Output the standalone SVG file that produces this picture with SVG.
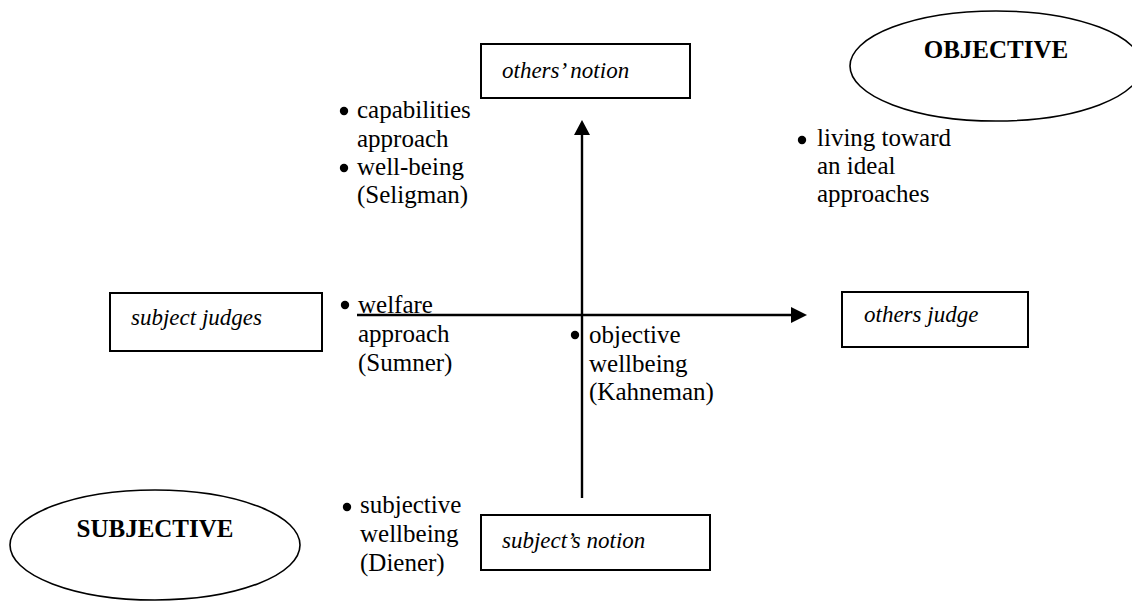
<svg xmlns="http://www.w3.org/2000/svg" width="1132" height="601" viewBox="0 0 1132 601">
<style>
.box{fill:#fff;stroke:#000;stroke-width:2}
.ell{fill:#fff;stroke:#000;stroke-width:1.6}
.lbl{font-family:"Liberation Serif","Times New Roman",serif;font-style:italic;font-size:23px;fill:#000}
.big{font-family:"Liberation Serif","Times New Roman",serif;font-weight:bold;font-size:25px;fill:#000;text-anchor:middle}
.txt{font-family:"Liberation Serif","Times New Roman",serif;font-size:25px;fill:#000}
.dot{fill:#000}
.ax{stroke:#000;stroke-width:2.4;fill:none}
.head{fill:#000}
</style>
<rect width="1132" height="601" fill="#fff"/>
<g id="objective">
<ellipse class="ell" cx="996" cy="66" rx="146" ry="55"/>
<text class="big" x="996" y="58">OBJECTIVE</text>
</g>
<g id="subjective">
<ellipse class="ell" cx="155" cy="545" rx="145" ry="55"/>
<text class="big" x="155" y="537">SUBJECTIVE</text>
</g>
<g id="others-notion">
<rect class="box" x="481" y="44" width="209" height="54"/>
<text class="lbl" x="502" y="78">others’ notion</text>
</g>
<g id="subject-judges">
<rect class="box" x="110" y="293" width="212" height="58"/>
<text class="lbl" x="131" y="325">subject judges</text>
</g>
<g id="others-judge">
<rect class="box" x="842" y="292" width="186" height="55"/>
<text class="lbl" x="864" y="322">others judge</text>
</g>
<g id="subjects-notion">
<rect class="box" x="481" y="515" width="229" height="55"/>
<text class="lbl" x="502" y="548">subject’s notion</text>
</g>
<g id="connectors">
<line class="ax" x1="582" y1="498" x2="582" y2="134"/>
<polygon class="head" points="574,135 582,120 590,135"/>
<line class="ax" x1="357" y1="315" x2="792" y2="315"/>
<polygon class="head" points="791,307 807,315 791,323"/>
</g>
<g id="list-top-left">
<circle class="dot" cx="344" cy="111" r="4.2"/>
<text class="txt" x="357" y="118">capabilities</text>
<text class="txt" x="357" y="147">approach</text>
<circle class="dot" cx="344" cy="168" r="4.2"/>
<text class="txt" x="357" y="175">well-being</text>
<text class="txt" x="357" y="203">(Seligman)</text>
</g>
<g id="list-top-right">
<circle class="dot" cx="802" cy="140" r="4.2"/>
<text class="txt" x="817" y="146">living toward</text>
<text class="txt" x="817" y="174">an ideal</text>
<text class="txt" x="817" y="202">approaches</text>
</g>
<g id="list-middle-left">
<circle class="dot" cx="345" cy="305" r="4.2"/>
<text class="txt" x="358" y="313">welfare</text>
<text class="txt" x="358" y="342">approach</text>
<text class="txt" x="358" y="371">(Sumner)</text>
</g>
<g id="list-middle">
<circle class="dot" cx="575" cy="335" r="4.2"/>
<text class="txt" x="589" y="343">objective</text>
<text class="txt" x="589" y="372">wellbeing</text>
<text class="txt" x="589" y="400">(Kahneman)</text>
</g>
<g id="list-bottom-left">
<circle class="dot" cx="347" cy="507" r="4.2"/>
<text class="txt" x="360" y="513">subjective</text>
<text class="txt" x="360" y="542">wellbeing</text>
<text class="txt" x="360" y="571">(Diener)</text>
</g>
</svg>
